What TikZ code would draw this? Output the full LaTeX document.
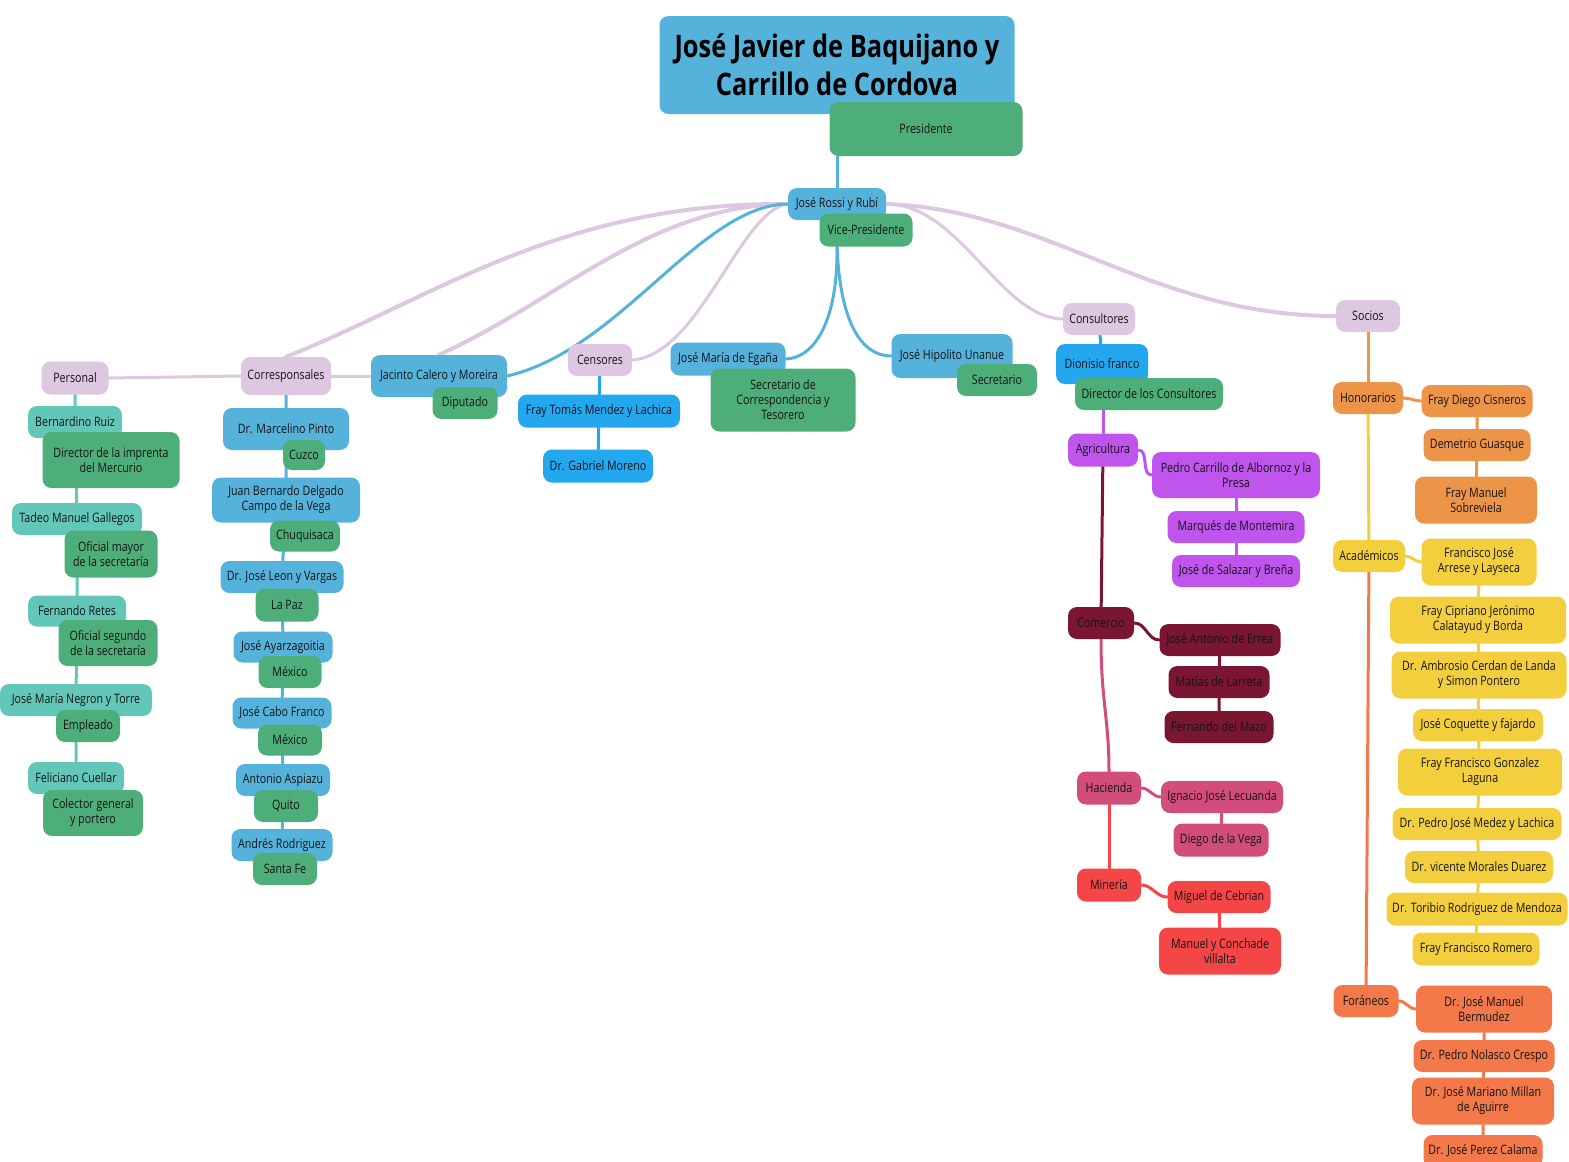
\documentclass[tikz,border=0pt]{standalone}
\usepackage{fontspec}
\setmainfont{Open Sans}[FakeStretch=0.82]
\usetikzlibrary{backgrounds}
\definecolor{cblue}{HTML}{55B2DB}
\definecolor{cgreen}{HTML}{4DAE79}
\definecolor{clila}{HTML}{DEC7E1}
\definecolor{cteal}{HTML}{62C7B8}
\definecolor{csky}{HTML}{23A8F0}
\definecolor{cpurple}{HTML}{BF55EC}
\definecolor{cmaroon}{HTML}{7A1632}
\definecolor{crose}{HTML}{D24D7B}
\definecolor{cred}{HTML}{F44646}
\definecolor{corange}{HTML}{EC9548}
\definecolor{cyellow}{HTML}{F3CF3E}
\definecolor{ccoral}{HTML}{F3784A}
\begin{document}
\begin{tikzpicture}[x=1pt,y=-1pt,
base/.style={
rounded corners=9pt,
inner sep=1pt,
align=center,
text=black!92,
font={\fontsize{13}{15}\selectfont},
},
lilabox/.style={base,fill=clila},
bluebox/.style={base,fill=cblue},
greenbox/.style={base,fill=cgreen},
tealbox/.style={base,fill=cteal},
skybox/.style={base,fill=csky},
purplebox/.style={base,fill=cpurple},
maroonbox/.style={base,fill=cmaroon},
rosebox/.style={base,fill=crose},
redbox/.style={base,fill=cred},
orangebox/.style={base,fill=corange},
yellowbox/.style={base,fill=cyellow},
coralbox/.style={base,fill=ccoral},
link/.style={line width=3pt,line cap=round},
biglink/.style={line width=4pt,line cap=round},
]
\useasboundingbox (0,0) rectangle (1569,1162);
% centro
\node[bluebox,text=black,minimum width=355,minimum height=98,font={\fontsize{31}{38}\selectfont\bfseries}](title)at(837,65){José Javier de Baquijano y\\Carrillo de Cordova};
\node[greenbox,minimum width=193,minimum height=54](presid)at(926,129){Presidente};
\node[bluebox,minimum width=98,minimum height=32](rossi)at(837,204){José Rossi y Rubí};
\node[greenbox,minimum width=93,minimum height=33](vice)at(866,230){Vice-Presidente};
% personal
\node[lilabox,minimum width=67,minimum height=33](personal)at(75,378){Personal};
\node[tealbox,minimum width=94,minimum height=32](bruiz)at(75,422){Bernardino Ruiz};
\node[greenbox,minimum width=137,minimum height=56](imprenta)at(111,460){Director de la imprenta\\del Mercurio};
\node[tealbox,minimum width=130,minimum height=32](tadeo)at(77,519){Tadeo Manuel Gallegos};
\node[greenbox,minimum width=93,minimum height=47](ofmayor)at(111,554){Oficial mayor\\de la secretaría};
\node[tealbox,minimum width=98,minimum height=31](fretes)at(77,611){Fernando Retes};
\node[greenbox,minimum width=99,minimum height=46](ofsegundo)at(108,643){Oficial segundo\\de la secretaría};
\node[tealbox,minimum width=152,minimum height=32](negron)at(76,700){José María Negron y Torre};
\node[greenbox,minimum width=64,minimum height=32](empleado)at(88,726){Empleado};
\node[tealbox,minimum width=96,minimum height=32](cuellar)at(76,778){Feliciano Cuellar};
\node[greenbox,minimum width=100,minimum height=46](colector)at(93,813){Colector general\\y portero};
% corresponsales
\node[lilabox,minimum width=90,minimum height=38](corresp)at(286,376){Corresponsales};
\node[bluebox,minimum width=126,minimum height=42](mpinto)at(286,429){Dr. Marcelino Pinto};
\node[greenbox,minimum width=42,minimum height=30](cuzco)at(304,455){Cuzco};
\node[bluebox,minimum width=148,minimum height=45](jbdelgado)at(286,500){Juan Bernardo Delgado\\Campo de la Vega};
\node[greenbox,minimum width=70,minimum height=31](chuqui)at(305,536){Chuquisaca};
\node[bluebox,minimum width=123,minimum height=32](leon)at(282,577){Dr. José Leon y Vargas};
\node[greenbox,minimum width=63,minimum height=33](lapaz)at(287,605){La Paz};
\node[bluebox,minimum width=99,minimum height=31](ayarza)at(283,647){José Ayarzagoitia};
\node[greenbox,minimum width=63,minimum height=32](mexicoa)at(290,672){México};
\node[bluebox,minimum width=99,minimum height=31](cabo)at(282,713){José Cabo Franco};
\node[greenbox,minimum width=64,minimum height=31](mexicob)at(290,740){México};
\node[bluebox,minimum width=94,minimum height=32](aspiazu)at(283,780){Antonio Aspiazu};
\node[greenbox,minimum width=64,minimum height=32](quito)at(286,806){Quito};
\node[bluebox,minimum width=101,minimum height=32](andres)at(282,845){Andrés Rodriguez};
\node[greenbox,minimum width=64,minimum height=32](santafe)at(285,869){Santa Fe};
% diputado
\node[bluebox,minimum width=136,minimum height=42](jacinto)at(439,376){Jacinto Calero y Moreira};
\node[greenbox,minimum width=65,minimum height=32](diputado)at(465,403){Diputado};
% censores
\node[lilabox,minimum width=64,minimum height=32](censores)at(600,360){Censores};
\node[skybox,minimum width=162,minimum height=33](ftomas)at(599,411){Fray Tomás Mendez y Lachica};
\node[skybox,minimum width=110,minimum height=33](gmoreno)at(598,466){Dr. Gabriel Moreno};
% secretarios
\node[bluebox,minimum width=115,minimum height=33](egana)at(728,359){José María de Egaña};
\node[greenbox,minimum width=145,minimum height=63](tesorero)at(783,400){Secretario de\\Correspondencia y\\Tesorero};
\node[bluebox,minimum width=121,minimum height=44](hipolito)at(952,356){José Hipolito Unanue};
\node[greenbox,minimum width=80,minimum height=32](secret)at(997,380){Secretario};
% consultores
\node[lilabox,minimum width=72,minimum height=32](consult)at(1099,319){Consultores};
\node[skybox,minimum width=92,minimum height=40](dionisio)at(1102,364){Dionisio franco};
\node[greenbox,minimum width=148,minimum height=32](dircons)at(1149,394){Director de los Consultores};
\node[purplebox,minimum width=70,minimum height=33](agric)at(1103,450){Agricultura};
\node[purplebox,minimum width=168,minimum height=46](pedro)at(1236,475){Pedro Carrillo de Albornoz y la\\Presa};
\node[purplebox,minimum width=137,minimum height=32](marques)at(1236,527){Marqués de Montemira};
\node[purplebox,minimum width=128,minimum height=32](salazar)at(1236,571){José de Salazar y Breña};
\node[maroonbox,minimum width=66,minimum height=32](comercio)at(1101,623){Comercio};
\node[maroonbox,minimum width=121,minimum height=32](errea)at(1220,640){José Antonio de Errea};
\node[maroonbox,minimum width=101,minimum height=32](larreta)at(1219,682){Matías de Larreta};
\node[maroonbox,minimum width=109,minimum height=32](mazo)at(1219,727){Fernando del Mazo};
\node[rosebox,minimum width=64,minimum height=33](hacienda)at(1109,788){Hacienda};
\node[rosebox,minimum width=122,minimum height=32](lecuanda)at(1222,797){Ignacio José Lecuanda};
\node[rosebox,minimum width=95,minimum height=33](dvega)at(1221,840){Diego de la Vega};
\node[redbox,minimum width=64,minimum height=33](mineria)at(1109,885){Minería};
\node[redbox,minimum width=103,minimum height=32](cebrian)at(1219,897){Miguel de Cebrian};
\node[redbox,minimum width=122,minimum height=47](villalta)at(1220,951){Manuel y Conchade\\villalta};
% socios
\node[lilabox,minimum width=64,minimum height=32](socios)at(1368,316){Socios};
\node[orangebox,minimum width=70,minimum height=32](honor)at(1368,398){Honorarios};
\node[orangebox,minimum width=111,minimum height=32](fdiego)at(1477,401){Fray Diego Cisneros};
\node[orangebox,minimum width=107,minimum height=32](demetrio)at(1477,445){Demetrio Guasque};
\node[orangebox,minimum width=122,minimum height=47](fmanuel)at(1476,500){Fray Manuel\\Sobreviela};
\node[yellowbox,minimum width=72,minimum height=32](academ)at(1369,556){Académicos};
\node[yellowbox,minimum width=115,minimum height=47](arrese)at(1479,562){Francisco José\\Arrese y Layseca};
\node[yellowbox,minimum width=176,minimum height=47](cipriano)at(1478,620){Fray Cipriano Jerónimo\\Calatayud y Borda};
\node[yellowbox,minimum width=175,minimum height=47](cerdan)at(1479,675){Dr. Ambrosio Cerdan de Landa\\y Simon Pontero};
\node[yellowbox,minimum width=130,minimum height=32](coquette)at(1478,725){José Coquette y fajardo};
\node[yellowbox,minimum width=164,minimum height=47](laguna)at(1480,772){Fray Francisco Gonzalez\\Laguna};
\node[yellowbox,minimum width=169,minimum height=32](medez)at(1477,824){Dr. Pedro José Medez y Lachica};
\node[yellowbox,minimum width=148,minimum height=32](morales)at(1479,867){Dr. vicente Morales Duarez};
\node[yellowbox,minimum width=181,minimum height=33](toribio)at(1477,909){Dr. Toribio Rodriguez de Mendoza};
\node[yellowbox,minimum width=127,minimum height=33](romero)at(1476,949){Fray Francisco Romero};
\node[coralbox,minimum width=65,minimum height=32](foran)at(1366,1001){Foráneos};
\node[coralbox,minimum width=136,minimum height=47](bermudez)at(1484,1009){Dr. José Manuel\\Bermudez};
\node[coralbox,minimum width=141,minimum height=32](nolasco)at(1484,1056){Dr. Pedro Nolasco Crespo};
\node[coralbox,minimum width=142,minimum height=47](millan)at(1483,1101){Dr. José Mariano Millan\\de Aguirre};
\node[coralbox,minimum width=119,minimum height=32](calama)at(1483,1151){Dr. José Perez Calama};
% conectores
\begin{scope}[on background layer]
\draw[link,cblue](rossi.north)--(rossi.north|-presid.south);
\draw[biglink,clila](rossi.west)..controls(560,202)and(430,300)..(corresp.north);
\draw[link,clila](corresp.west)--(personal.east);
\draw[biglink,clila](rossi.west)..controls(650,205)and(560,300)..(jacinto.north);
\draw[link,clila](jacinto.west)--(corresp.east);
\draw[link,clila](rossi.west)..controls(740,210)and(700,355)..(censores.east);
\draw[link,cblue](rossi.west)..controls(700,205)and(620,350)..(jacinto.east);
\draw[link,clila](rossi.east)..controls(960,204)and(1000,318)..(consult.west);
\draw[biglink,clila](rossi.east)..controls(1050,210)and(1150,316)..(socios.west);
\draw[link,cblue](rossi.south|-vice.south)..controls(838,320)and(815,358)..(egana.east);
\draw[link,cblue](rossi.south|-vice.south)..controls(840,320)and(860,356)..(hipolito.west);
\draw[link,cteal](personal)--(bruiz)--(tadeo)--(fretes)--(negron)--(cuellar);
\draw[link,cblue](corresp)--(mpinto)--(jbdelgado)--(leon)--(ayarza)--(cabo)--(aspiazu)--(andres);
\draw[link,csky](censores)--(ftomas)--(gmoreno);
\draw[link,csky](consult)--(dionisio);
\draw[link,cpurple](agric.north)--(agric.north|-dircons.south);
\draw[link,cpurple](agric.east)to[out=0,in=180](pedro.west);
\draw[link,cpurple](pedro)--(marques)--(salazar);
\draw[link,cmaroon](agric)--(comercio);
\draw[link,cmaroon](comercio.east)to[out=0,in=180](errea.west);
\draw[link,cmaroon](errea)--(larreta)--(mazo);
\draw[link,crose](comercio.south)..controls(1101,700)and(1109,720)..(hacienda.north);
\draw[link,crose](hacienda.east)to[out=0,in=180](lecuanda.west);
\draw[link,crose](lecuanda)--(dvega);
\draw[link,cred](hacienda)--(mineria);
\draw[link,cred](mineria.east)to[out=0,in=180](cebrian.west);
\draw[link,cred](cebrian)--(villalta);
\draw[link,corange](socios)--(honor);
\draw[link,corange](honor.east)to[out=0,in=180](fdiego.west);
\draw[link,corange](fdiego)--(demetrio)--(fmanuel);
\draw[link,cyellow](honor)--(academ);
\draw[link,cyellow](academ.east)to[out=0,in=180](arrese.west);
\draw[link,cyellow](arrese)--(cipriano)--(cerdan)--(coquette)--(laguna)--(medez)--(morales)--(toribio)--(romero);
\draw[link,ccoral](academ)--(foran);
\draw[link,ccoral](foran.east)to[out=0,in=180](bermudez.west);
\draw[link,ccoral](bermudez)--(nolasco)--(millan)--(calama);
\end{scope}
\end{tikzpicture}
\end{document}
